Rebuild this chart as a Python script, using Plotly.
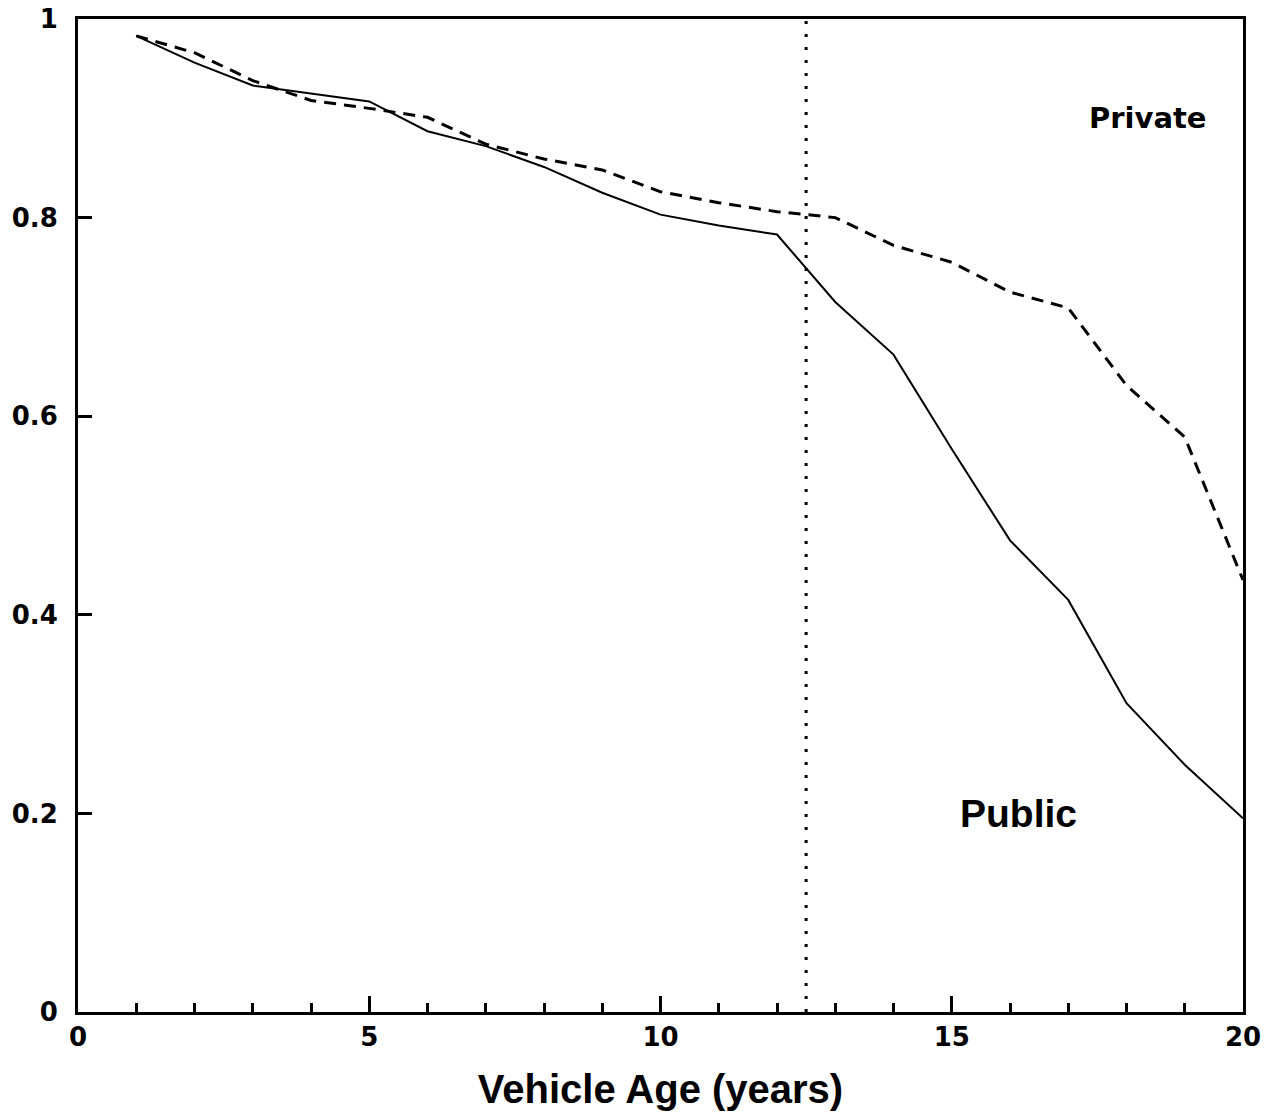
import plotly.graph_objects as go

# Data
ages = [1, 2, 3, 4, 5, 6, 7, 8, 9, 10, 11, 12, 13, 14, 15, 16, 17, 18, 19, 20]
public = [0.983, 0.956, 0.933, 0.925, 0.917, 0.887, 0.872, 0.851, 0.825, 0.803, 0.792, 0.783,
          0.715, 0.662, 0.567, 0.475, 0.415, 0.311, 0.249, 0.195]
private = [0.983, 0.966, 0.938, 0.918, 0.910, 0.901, 0.874, 0.859, 0.848, 0.826, 0.815, 0.806,
           0.800, 0.772, 0.755, 0.725, 0.709, 0.631, 0.579, 0.435]
cutoff_age = 12.5
x_ticks = [0, 5, 10, 15, 20]
y_ticks = [0, 0.2, 0.4, 0.6, 0.8, 1]
y_tick_text = ["0", "0.2", "0.4", "0.6", "0.8", "1"]

fig = go.Figure()
fig.add_trace(go.Scatter(x=ages, y=private, mode="lines", name="Private",
                         line=dict(color="black", width=3, dash="12px,8px")))
fig.add_trace(go.Scatter(x=ages, y=public, mode="lines", name="Public",
                         line=dict(color="black", width=2)))
fig.add_vline(x=cutoff_age, line=dict(color="black", width=3, dash="3px,10px"))

fig.add_annotation(x=18.37, y=0.9, text="<b>Private</b>", showarrow=False,
                   font=dict(family="DejaVu Sans", size=29, color="black"))
fig.add_annotation(x=16.15, y=0.2, text="<b>Public</b>", showarrow=False,
                   font=dict(family="Liberation Sans", size=39, color="black"))

tick_font = dict(family="DejaVu Sans", size=26, color="black")
fig.update_layout(
    width=1270, height=1114,
    margin=dict(l=78, r=27, t=19, b=102),
    paper_bgcolor="white", plot_bgcolor="white",
    showlegend=False,
    xaxis=dict(range=[0, 20], tickvals=x_ticks, ticktext=[f"<b>{v}</b>" for v in x_ticks],
               ticks="inside", ticklen=16, tickwidth=3, tickcolor="black",
               minor=dict(dtick=1, ticks="inside", ticklen=9, tickwidth=3, tickcolor="black"),
               showline=True, linecolor="black", linewidth=3, mirror=True,
               showgrid=False, zeroline=False, tickfont=tick_font, automargin=False,
               ticklabeloverflow="allow",
               title=dict(text="<b>Vehicle Age (years)</b>", standoff=24,
                          font=dict(family="Liberation Sans", size=40, color="black"))),
    yaxis=dict(range=[0, 1], tickvals=y_ticks, ticktext=[f"<b>{t}</b>" for t in y_tick_text],
               ticks="inside", ticklen=14, tickwidth=3, tickcolor="black",
               showline=True, linecolor="black", linewidth=3, mirror=True,
               showgrid=False, zeroline=False, tickfont=tick_font, automargin=False,
               ticklabelstandoff=12, ticklabeloverflow="allow"),
)
fig.write_html("out.html", config={"displayModeBar": False},
               post_script="document.body.style.margin='0';")
